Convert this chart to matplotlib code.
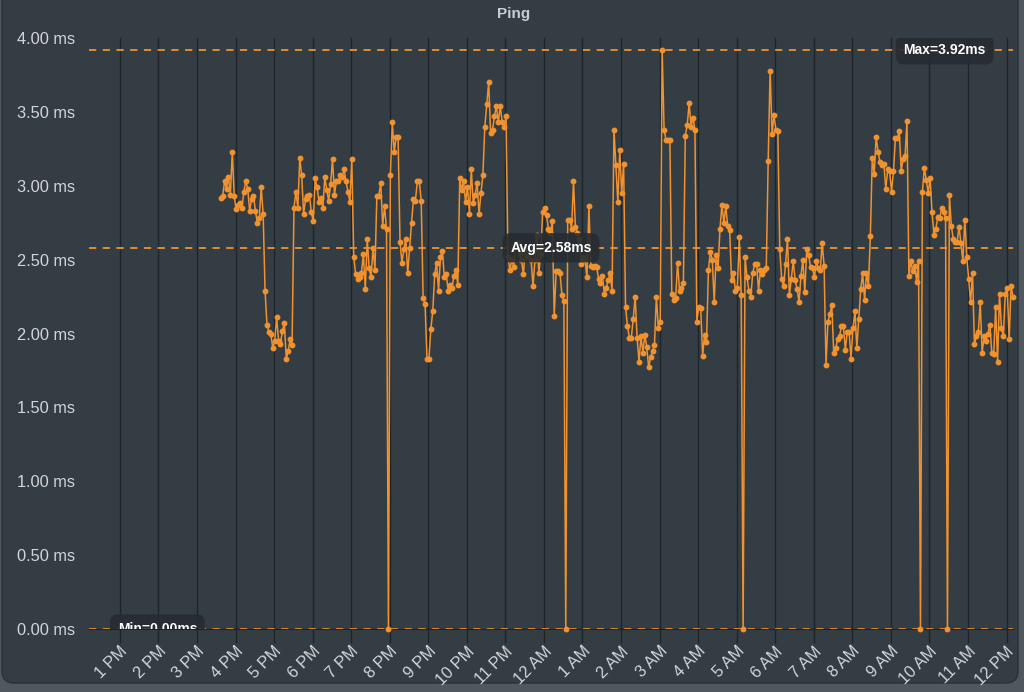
import numpy as np
import pandas as pd
import matplotlib
matplotlib.use("Agg")
import matplotlib.pyplot as plt
import matplotlib.dates as mdates
from matplotlib.patches import FancyBboxPatch
from matplotlib.transforms import blended_transform_factory

# ping samples, one every 3 minutes starting 3:37 PM
start_time = pd.Timestamp("2024-05-01 15:37")
step = "3min"
ping_ms = [
    2.92, 2.93, 3.03, 2.98, 3.06, 2.94, 3.23, 2.93, 2.84, 2.87,
    2.88, 2.85, 2.96, 3.03, 2.98, 2.83, 2.91, 2.93, 2.83, 2.75,
    2.78, 2.99, 2.81, 2.29, 2.06, 2.01, 2.00, 1.90, 1.95, 2.11,
    1.95, 1.93, 2.02, 2.07, 1.83, 1.88, 1.96, 1.92, 2.85, 2.96,
    2.85, 3.19, 3.07, 2.81, 2.91, 2.93, 2.94, 2.82, 2.76, 3.05,
    2.99, 2.89, 2.92, 2.85, 3.06, 2.97, 2.90, 3.01, 3.18, 2.94,
    3.03, 3.03, 3.07, 3.06, 3.11, 3.03, 2.96, 2.89, 3.18, 2.52,
    2.40, 2.37, 2.38, 2.41, 2.54, 2.30, 2.64, 2.44, 2.38, 2.58,
    2.43, 2.93, 2.93, 3.02, 2.73, 2.86, 2.71,
    0.00,
    3.07, 3.43, 3.23, 3.33, 3.33, 2.62, 2.48, 2.57, 2.64, 2.41,
    2.58, 2.75, 2.91, 2.90, 3.03, 3.03, 2.90, 2.24, 2.20, 1.83,
    1.83, 2.03, 2.15, 2.40, 2.48, 2.29, 2.52, 2.56, 2.38, 2.40,
    2.29, 2.33, 2.31, 2.39, 2.43, 2.33, 3.05, 2.97, 3.03, 2.89,
    2.99, 2.81, 3.11, 2.88, 2.94, 3.02, 2.81, 2.95, 3.07, 3.40,
    3.55, 3.70, 3.36, 3.38, 3.47, 3.54, 3.43, 3.54, 3.43, 3.40,
    3.47, 2.52, 2.43, 2.50, 2.45, 2.61, 2.61, 2.54, 2.50, 2.40,
    2.57, 2.52, 2.51, 2.50, 2.32, 2.50, 2.67, 2.41, 2.54, 2.82,
    2.85, 2.80, 2.71, 2.68, 2.76, 2.12, 2.42, 2.42, 2.41, 2.26,
    2.22,
    0.00,
    2.77, 2.77, 2.71, 3.03, 2.72, 2.68, 2.64, 2.47, 2.52, 2.50,
    2.38, 2.86, 2.46, 2.45, 2.46, 2.45, 2.37, 2.34, 2.39, 2.27,
    2.31, 2.36, 2.41, 2.29, 3.38, 3.14, 2.89, 3.24, 2.95, 3.15,
    2.18, 2.05, 1.97, 1.97, 2.10, 2.25, 1.97, 1.81, 1.98, 1.87,
    1.99, 1.91, 1.77, 1.84, 1.88, 1.92, 2.25, 2.04, 2.08, 3.92,
    3.38, 3.31, 3.31, 3.31, 2.27, 2.23, 2.24, 2.48, 2.29, 2.31,
    2.34, 3.34, 3.41, 3.56, 3.40, 3.46, 3.38, 2.08, 2.18, 2.17,
    1.85, 1.99, 1.94, 2.43, 2.55, 2.50, 2.21, 2.53, 2.44, 2.71,
    2.87, 2.75, 2.86, 2.73, 2.70, 2.36, 2.41, 2.29, 2.31, 2.65,
    2.26,
    0.00,
    2.52, 2.38, 2.29, 2.25, 2.41, 2.47, 2.47, 2.29, 2.43, 2.40,
    2.43, 2.44, 3.17, 3.78, 3.35, 3.48, 3.38, 3.37, 2.57, 2.37,
    2.32, 2.47, 2.64, 2.26, 2.37, 2.49, 2.36, 2.30, 2.21, 2.39,
    2.50, 2.28, 2.57, 2.53, 2.45, 2.44, 2.38, 2.49, 2.44, 2.43,
    2.61, 2.46, 1.79, 2.08, 2.13, 2.19, 1.87, 1.90, 1.96, 1.98,
    2.05, 2.05, 1.89, 2.01, 2.01, 1.83, 2.04, 2.15, 1.90, 2.10,
    2.30, 2.41, 2.23, 2.41, 2.32, 2.66, 3.19, 3.08, 3.33, 3.23,
    3.16, 3.14, 3.15, 2.98, 3.11, 3.10, 2.96, 3.10, 3.32, 3.32,
    3.37, 3.10, 3.18, 3.20, 3.44, 2.39, 2.49, 2.42, 2.46, 2.35,
    2.49,
    0.00,
    2.96, 3.12, 3.04, 2.95, 3.05, 2.82, 2.67, 2.71, 2.79, 2.78,
    2.85, 2.82, 2.78,
    0.00,
    2.94, 2.73, 2.64, 2.62, 2.62, 2.72, 2.61, 2.49, 2.77, 2.52,
    2.37, 2.21, 2.41, 1.93, 1.98, 2.01, 2.21, 1.87, 1.98, 1.95,
    2.00, 2.06, 1.87, 1.86, 2.18, 1.81, 2.27, 2.04, 1.98, 2.27,
    2.31, 1.96, 2.32, 2.25,
]
avg_ms = 2.58
window = (pd.Timestamp("2024-05-01 12:12"), pd.Timestamp("2024-05-02 12:10"))
y_ticks = [0.0, 0.5, 1.0, 1.5, 2.0, 2.5, 3.0, 3.5, 4.0]

times = pd.date_range(start_time, periods=len(ping_ms), freq=step)
max_ms = max(ping_ms)
min_ms = min(ping_ms)

orange = "#f0922f"
panel = "#343d44"
grid_c = "#1f2428"
text_c = "#d3d5d7"

plt.rcParams["font.family"] = ["Liberation Sans", "DejaVu Sans"]

fig = plt.figure(figsize=(10.24, 6.92), dpi=100, facecolor="#50575d")
bg = FancyBboxPatch((2, 9), 1016, 720, boxstyle="round,pad=0,rounding_size=12",
                    transform=None, fc=panel, ec="#2c3237", lw=1, zorder=-10)
fig.patches.append(bg)

ax = fig.add_axes([89 / 1024, 63 / 692, 924 / 1024, 591 / 692])
ax.set_facecolor("none")

ax.plot(times, ping_ms, color=orange, lw=1.1, marker="o", ms=3.2,
        clip_on=False, zorder=3)

for v in (max_ms, avg_ms, min_ms):
    ax.axhline(v, color=orange, lw=1.3, ls=(0, (4, 3.6)), zorder=2)

ax.set_xlim(window)
ax.set_ylim(0, 4)
ax.set_yticks(y_ticks)
ax.yaxis.set_major_formatter(plt.FuncFormatter(lambda v, p: f"{v:.2f} ms"))

ax.xaxis.set_major_locator(mdates.HourLocator())


def hour_label(x, pos):
    h = mdates.num2date(x).hour
    return f"{h % 12 or 12} {'AM' if h < 12 else 'PM'}"


ax.xaxis.set_major_formatter(plt.FuncFormatter(hour_label))
ax.grid(axis="x", color=grid_c, lw=1)
ax.tick_params(axis="y", length=0, pad=10, labelsize=11.8, labelcolor=text_c)
ax.tick_params(axis="x", length=10, width=1, color=grid_c, pad=0.5,
               labelsize=11.8, labelcolor=text_c)
for lab in ax.get_xticklabels():
    lab.set_rotation(45)
    lab.set_ha("right")
    lab.set_rotation_mode("anchor")

for s in ("top", "left", "right"):
    ax.spines[s].set_visible(False)
ax.spines["bottom"].set_color(grid_c)

trans = blended_transform_factory(ax.transAxes, ax.transData)
box = dict(boxstyle="round,pad=0.55,rounding_size=0.55", fc="#262c31",
           ec="none", alpha=0.9)
labels = [(0.926, max_ms, f"Max={max_ms:.2f}ms"),
          (0.5, avg_ms, f"Avg={avg_ms:.2f}ms"),
          (0.074, min_ms, f"Min={min_ms:.2f}ms")]
for xf, v, s in labels:
    t = ax.text(xf, v, s, transform=trans, ha="center", va="center",
                color="white", fontsize=10, fontweight="bold", bbox=box,
                zorder=5)
    t.set_clip_path(ax.patch)
    t.set_clip_on(True)

fig.text(514 / 1024, 1 - 14 / 692, "Ping", ha="center", va="center",
         color="#c9cdd0", fontsize=11, fontweight="bold")

fig.savefig("out.png", dpi=100, facecolor=fig.get_facecolor())
